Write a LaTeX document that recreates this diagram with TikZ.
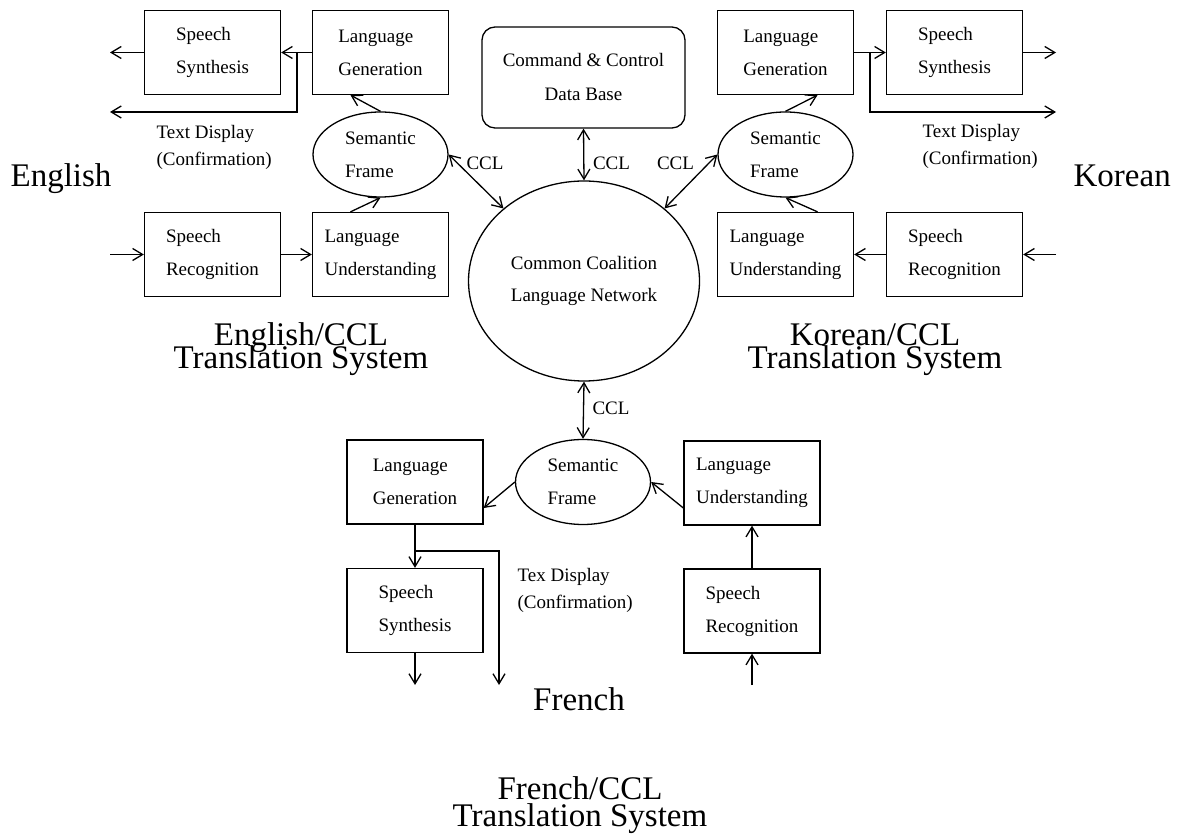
\documentclass[tikz,border=0pt]{standalone}
\usepackage{fontspec}
\setmainfont{Liberation Serif}
\usetikzlibrary{shapes.geometric,arrows.meta}
\newcommand{\modfont}{\fontsize{9.5}{16.5}\selectfont}
\newcommand{\langfont}{\fontsize{16.5}{11.5}\selectfont\lineskiplimit=-30pt}
\newcommand{\frlangfont}{\fontsize{16.5}{13.5}\selectfont\lineskiplimit=-30pt}

\begin{document}
\begin{tikzpicture}[x=0.5pt,y=-0.5pt,line width=0.65pt,
   >={Straight Barb[length=5pt,width=6pt]},
   modbox/.style={draw,rectangle,minimum width=68pt,minimum height=42pt,inner sep=0pt,align=left,font=\modfont},
   semframe/.style={draw,ellipse,minimum width=67.5pt,minimum height=42.5pt,inner sep=0pt,align=left,font=\modfont},
   ccl/.style={font=\modfont,anchor=base,inner sep=0pt},
   note/.style={font=\fontsize{9.5}{13.5}\selectfont,align=left,anchor=west,inner sep=0pt},
   lang/.style={font=\langfont,align=center,inner sep=0pt}]
   \useasboundingbox (0,0) rectangle (1182,838);

   % centre
   \node[draw,rounded corners=6.5pt,minimum width=101.5pt,minimum height=50.5pt,align=center,
         font=\fontsize{9.5}{17}\selectfont] (ccdb) at (583.5,77.5) {Command \& Control\\Data Base};
   \node[draw,ellipse,minimum width=115.5pt,minimum height=100pt,inner sep=0pt,align=center,
         font=\fontsize{9.5}{16}\selectfont] (net) at (584,281) {Common Coalition\\Language Network};
   \draw[<->] (ccdb.south) -- (net.north);
   \node[ccl] at (611.5,170) {CCL};

   % English
   \node[modbox] (ess) at (212.5,52.5) {Speech\\Synthesis};
   \node[modbox] (elg) at (380.5,52.5) {Language\\Generation};
   \node[semframe] (esf) at (380.5,154.5) {Semantic\\Frame};
   \node[modbox] (esr) at (212.5,254.5) {Speech\\Recognition};
   \node[modbox] (elu) at (380.5,254.5) {Language\\Understanding};
   \coordinate (etap) at (297,52.5);
   \coordinate (eout) at (110,52.5);
   \coordinate (etext) at (110,112);
   \coordinate (ein) at (110,254.5);
   \draw[->] (elg.west) -- (ess.east);
   \draw[->] (ess.west) -- (eout);
   \draw[->] (etap) |- (etext);
   \draw[->] (esf.north) -- ([xshift=-15pt]elg.south);
   \draw[->] ([xshift=-15pt]elu.north) -- (esf.south);
   \draw[->] (ein) -- (esr.west);
   \draw[->] (esr.east) -- (elu.west);
   \draw[<->] (esf.east) -- (net.138);
   \node[ccl] at (485,170) {CCL};
   \node[note] at (156,147) {Text Display\\(Confirmation)};
   \node[lang,anchor=base west] at (10,187) {English};
   \node[lang] at (301,349) {English/CCL\\Translation System};

   % Korean
   \node[modbox] (klg) at (785.5,52.5) {Language\\Generation};
   \node[modbox] (kss) at (954.5,52.5) {Speech\\Synthesis};
   \node[semframe] (ksf) at (785.5,154.5) {Semantic\\Frame};
   \node[modbox] (klu) at (785.5,254.5) {Language\\Understanding};
   \node[modbox] (ksr) at (954.5,254.5) {Speech\\Recognition};
   \coordinate (ktap) at (870,52.5);
   \coordinate (kout) at (1056,52.5);
   \coordinate (ktext) at (1056,112);
   \coordinate (kin) at (1056,254.5);
   \draw[->] (klg.east) -- (kss.west);
   \draw[->] (kss.east) -- (kout);
   \draw[->] (ktap) |- (ktext);
   \draw[->] (ksf.north) -- ([xshift=16pt]klg.south);
   \draw[->] ([xshift=16pt]klu.north) -- (ksf.south);
   \draw[->] (kin) -- (ksr.east);
   \draw[->] (ksr.west) -- (klu.east);
   \draw[<->] (ksf.west) -- (net.42);
   \node[ccl] at (675.5,170) {CCL};
   \node[note] at (922,146) {Text Display\\(Confirmation)};
   \node[lang,anchor=base west] at (1073,187) {Korean};
   \node[lang] at (875,350) {Korean/CCL\\Translation System};

   % French
   \node[modbox] (flg) at (415,482) {Language\\Generation};
   \node[semframe] (fsf) at (583,482) {Semantic\\Frame};
   \node[modbox] (flu) at (752,483) {Language\\Understanding};
   \node[modbox] (fss) at (415,610.5) {Speech\\Synthesis};
   \node[modbox] (fsr) at (752,611) {Speech\\Recognition};
   \coordinate (ftap) at (415,551);
   \coordinate (ftext) at (499,685);
   \coordinate (fout) at (415,685);
   \coordinate (fin) at (752,685);
   \draw[<->] (net.south) -- (fsf.north);
   \node[ccl] at (611,415) {CCL};
   \draw[->] (fsf.west) -- ([yshift=-13pt]flg.east);
   \draw[->] ([yshift=-12.5pt]flu.west) -- (fsf.east);
   \draw[->] (flg.south) -- (fss.north);
   \draw[->] (ftap) -| (ftext);
   \draw[->] (fss.south) -- (fout);
   \draw[->] (fin) -- (fsr.south);
   \draw[->] (fsr.north) -- (flu.south);
   \node[note] at (517,590) {Tex Display\\(Confirmation)};
   \node[lang,anchor=base] at (579,710) {French};
   \node[lang,font=\frlangfont] at (580,805) {French/CCL\\Translation System};
\end{tikzpicture}
\end{document}
